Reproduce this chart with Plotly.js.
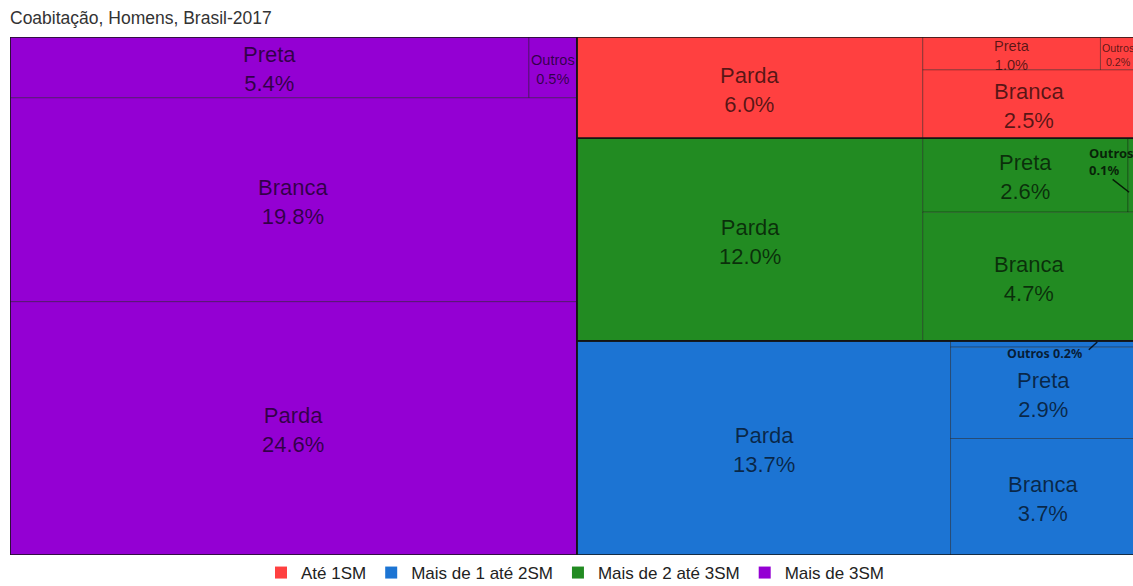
<!DOCTYPE html>
<html>
<head>
<meta charset="utf-8">
<script src="https://cdn.plot.ly/plotly-3.0.1.min.js"></script>
<style>html,body{margin:0;padding:0;background:#fff;}#chart{width:1133px;height:586px;}</style>
</head>
<body>
<div id="chart"></div>
<script>
// ---- data ----
const chartTitle = 'Coabitação, Homens, Brasil-2017';
const groups = ['Até 1SM', 'Mais de 1 até 2SM', 'Mais de 2 até 3SM', 'Mais de 3SM'];
const races = ['Parda', 'Branca', 'Preta', 'Outros'];
const valAte1 = [6.0, 2.5, 1.0, 0.2];
const valMais1a2 = [13.7, 3.7, 2.9, 0.2];
const valMais2a3 = [12.0, 4.7, 2.6, 0.1];
const valMais3 = [24.6, 19.8, 5.4, 0.5];
const groupColors = ['#FF4040', '#1C74D3', '#228B22', '#9400D3'];

// ---- layout helpers ----
const values = [valAte1, valMais1a2, valMais2a3, valMais3];
const sum = a => a.reduce((s, v) => s + v, 0);
const total = sum(values.map(sum));
const PX_W = 1126, PX_H = 518; // pixel size of the full treemap
const FONT = 'Liberation Sans, Arial, sans-serif';

function splitH(r, w) { // left -> right
  const t = sum(w); let x = r.x0; const out = [];
  w.forEach(v => { const nx = x + (r.x1 - r.x0) * v / t; out.push({x0: x, x1: nx, y0: r.y0, y1: r.y1}); x = nx; });
  return out;
}
function splitV(r, w) { // top -> bottom
  const t = sum(w); let y = r.y0; const out = [];
  w.forEach(v => { const ny = y + (r.y1 - r.y0) * v / t; out.push({x0: r.x0, x1: r.x1, y0: y, y1: ny}); y = ny; });
  return out;
}

const cells = []; // {g, i, rect}
const groupRects = [];
function add(g, i, rect) { cells.push({g: g, i: i, r: rect}); }

// left column: Mais de 3SM
const gP = 3, vP = values[gP];
const purpleRect = {x0: 0, x1: sum(vP) / total, y0: 0, y1: 1};
groupRects.push({g: gP, r: purpleRect});
{
  const rows = splitV(purpleRect, [vP[2] + vP[3], vP[1], vP[0]]);
  const top = splitH(rows[0], [vP[2], vP[3]]);
  add(gP, 2, top[0]); add(gP, 3, top[1]); add(gP, 1, rows[1]); add(gP, 0, rows[2]);
}
// right column, top -> bottom
const rightOrder = [0, 2, 1];
const rightRect = {x0: purpleRect.x1, x1: 1, y0: 0, y1: 1};
const rightRects = splitV(rightRect, rightOrder.map(g => sum(values[g])));
rightOrder.forEach((g, k) => {
  const v = values[g], gr = rightRects[k];
  groupRects.push({g: g, r: gr});
  const cols = splitH(gr, [v[0], v[1] + v[2] + v[3]]);
  add(g, 0, cols[0]);
  if (g === 1) {
    const st = splitV(cols[1], [v[3], v[2], v[1]]);
    add(g, 3, st[0]); add(g, 2, st[1]); add(g, 1, st[2]);
  } else {
    const st = splitV(cols[1], [v[2] + v[3], v[1]]);
    const top = splitH(st[0], [v[2], v[3]]);
    add(g, 2, top[0]); add(g, 3, top[1]); add(g, 1, st[1]);
  }
});

// callout styles for cells too small to hold a label
const callouts = {
  2: {text: 'Outros<br>0.1%', anchor: 'left', xanchor: 'left', xshift: -41, yshift: 14, align: 'left', size: 13,
      arrow: {anchor: 'left', xshift: 1, yshift: -17, ax: -18, ay: -14}},
  1: {text: 'Outros 0.2%', anchor: 'center', xanchor: 'center', xshift: 1, yshift: -9, align: 'center', size: 12.5,
      arrow: {anchor: 'center', xshift: 54, yshift: 2, ax: -10, ay: 9}}
};

const shapes = [];
const annotations = [];
cells.forEach(c => {
  const r = c.r;
  shapes.push({type: 'rect', xref: 'x', yref: 'y', x0: r.x0, x1: r.x1, y0: r.y0, y1: r.y1,
    fillcolor: groupColors[c.g], line: {color: 'rgba(0,0,0,0.35)', width: 1}});
  const wpx = (r.x1 - r.x0) * PX_W, hpx = (r.y1 - r.y0) * PX_H;
  const fs = Math.min(22, wpx / 3.3, hpx / 2.25);
  const val = values[c.g][c.i];
  const xc = (r.x0 + r.x1) / 2, yc = (r.y0 + r.y1) / 2;
  if (fs >= 9) {
    annotations.push({xref: 'x', yref: 'y', x: xc, y: yc, yshift: -2, showarrow: false,
      text: races[c.i] + '<br>' + val.toFixed(1) + '%', align: 'center',
      font: {family: FONT, size: fs, color: 'rgba(0,0,0,0.66)'}});
  } else {
    const co = callouts[c.g];
    const ax = co.anchor === 'left' ? r.x0 : xc;
    annotations.push({xref: 'x', yref: 'y', x: ax, y: yc, xanchor: co.xanchor, yanchor: 'middle',
      xshift: co.xshift, yshift: co.yshift, showarrow: false, text: '<b>' + co.text + '</b>', align: co.align,
      font: {family: 'Noto Sans, sans-serif', size: co.size, color: 'rgba(0,0,0,0.75)'}});
    const ar = co.arrow;
    annotations.push({xref: 'x', yref: 'y', x: ar.anchor === 'left' ? r.x0 : xc, y: yc,
      xshift: ar.xshift, yshift: ar.yshift, showarrow: true, arrowhead: 0, arrowwidth: 1.5,
      arrowcolor: 'rgba(0,0,0,0.8)', ax: ar.ax, ay: ar.ay, text: ''});
  }
});
groupRects.forEach(gr => {
  const r = gr.r;
  shapes.push({type: 'rect', xref: 'x', yref: 'y', x0: r.x0, x1: r.x1, y0: r.y0, y1: r.y1,
    fillcolor: 'rgba(0,0,0,0)', line: {color: 'rgba(20,20,20,0.9)', width: 1.6}});
});

const traces = groups.map((g, k) => ({
  type: 'scatter', mode: 'markers', x: [null], y: [null], name: g, showlegend: true,
  marker: {symbol: 'square', size: 12, color: groupColors[k]}, hoverinfo: 'skip'
}));

const layout = {
  width: 1133, height: 586,
  margin: {l: 10, r: 0, t: 37, b: 31, pad: 0},
  paper_bgcolor: '#ffffff', plot_bgcolor: '#ffffff',
  title: {text: chartTitle, xref: 'container', yref: 'container', x: 10 / 1133, xanchor: 'left',
    y: 1 - 18 / 586, yanchor: 'middle', font: {family: FONT, size: 17.5, color: '#333333'}},
  xaxis: {range: [0, 1123 / PX_W], visible: false, fixedrange: true},
  yaxis: {range: [1, 0], visible: false, fixedrange: true},
  shapes: shapes,
  annotations: annotations,
  showlegend: true,
  legend: {orientation: 'h', xref: 'container', yref: 'container', x: 575 / 1133, xanchor: 'center',
    y: 1 - 573 / 586, yanchor: 'middle', font: {family: FONT, size: 17, color: '#222222'},
    itemwidth: 30, tracegroupgap: 0, itemclick: false, itemdoubleclick: false}
};

Plotly.newPlot('chart', traces, layout, {displayModeBar: false, staticPlot: true});
</script>
</body>
</html>
